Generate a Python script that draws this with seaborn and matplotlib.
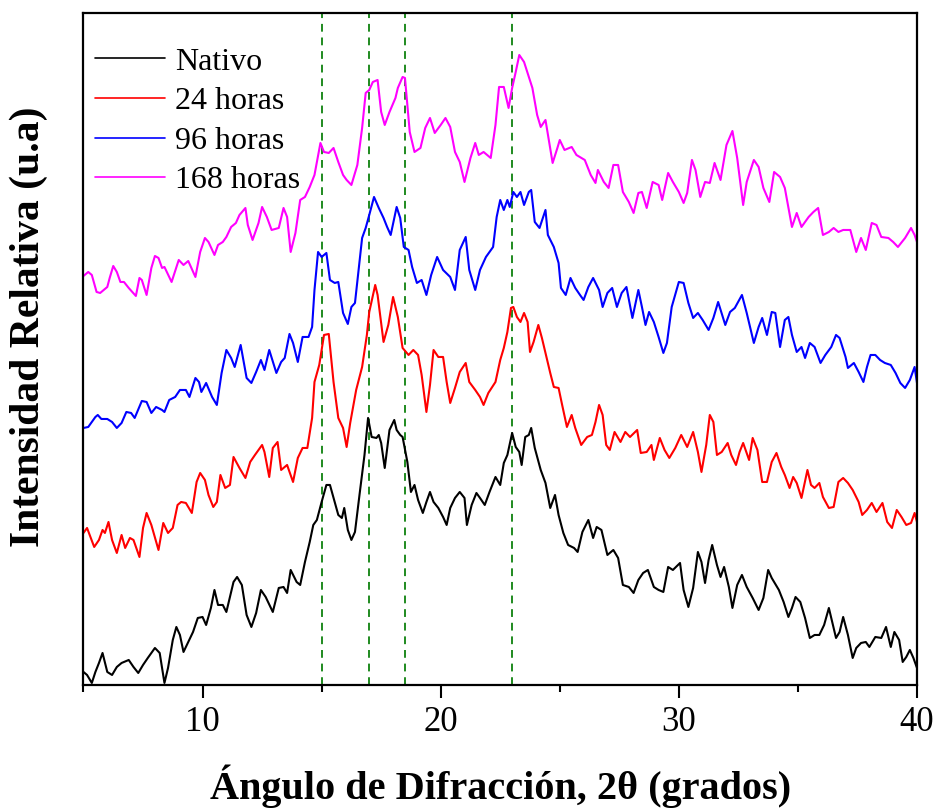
import matplotlib
matplotlib.use("Agg")
import matplotlib.pyplot as plt
import pandas as pd
import seaborn as sns

# ---- diffraction patterns (2θ in degrees, relative intensity in a.u., stacked) ----
nativo_x = [5.0, 5.15, 5.35, 5.5, 5.65, 5.8, 6.0, 6.2, 6.4, 6.6, 6.9, 7.1, 7.3, 7.5, 7.7, 7.85, 8.0, 8.2, 8.4, 8.55,
            8.75, 8.9, 9.05, 9.2, 9.4, 9.6, 9.8, 10.0, 10.15, 10.35, 10.5, 10.65, 10.85, 11.0, 11.15, 11.3, 11.45,
            11.65, 11.85, 12.05, 12.25, 12.45, 12.65, 12.95, 13.2, 13.4, 13.55, 13.7, 13.95, 14.1, 14.3, 14.5, 14.65,
            14.8, 15.0, 15.2, 15.35, 15.5, 15.7, 15.85, 15.95, 16.1, 16.25, 16.4, 16.6, 16.8, 16.95, 17.1, 17.3, 17.4,
            17.5, 17.65, 17.85, 18.05, 18.15, 18.3, 18.4, 18.6, 18.75, 18.9, 19.05, 19.25, 19.4, 19.55, 19.7, 19.9,
            20.1, 20.25, 20.4, 20.6, 20.8, 21.0, 21.1, 21.3, 21.5, 21.65, 21.85, 22.05, 22.3, 22.5, 22.65, 22.8, 23.0,
            23.15, 23.3, 23.4, 23.55, 23.7, 23.8, 23.95, 24.2, 24.4, 24.6, 24.8, 24.95, 25.15, 25.35, 25.6, 25.75,
            25.95, 26.2, 26.4, 26.55, 26.75, 27.0, 27.25, 27.45, 27.65, 27.9, 28.1, 28.3, 28.5, 28.7, 28.95, 29.15,
            29.35, 29.55, 29.75, 30.05, 30.2, 30.4, 30.6, 30.8, 30.95, 31.1, 31.25, 31.4, 31.6, 31.75, 31.9, 32.1,
            32.25, 32.45, 32.65, 32.85, 33.1, 33.35, 33.55, 33.75, 33.9, 34.2, 34.4, 34.6, 34.75, 34.9, 35.1, 35.3,
            35.5, 35.7, 35.9, 36.1, 36.3, 36.45, 36.6, 36.75, 36.9, 37.1, 37.3, 37.45, 37.65, 37.85, 38.0, 38.25,
            38.5, 38.7, 38.9, 39.05, 39.25, 39.4, 39.55, 39.7, 39.85, 40.0]
nativo_y = [13, 10, 2, 13, 22, 32, 13, 10, 18, 22, 25, 18, 12, 20, 27, 32, 37, 32, 2, 17,
            45, 58, 50, 33, 43, 53, 67, 68, 60, 77, 95, 80, 80, 73, 88, 103, 108,
            100, 70, 58, 72, 95, 88, 73, 97, 98, 92, 115, 103, 100, 123, 143, 160,
            165, 183, 200, 200, 187, 170, 167, 177, 155, 145, 153, 192, 230, 267, 248, 247, 250,
            242, 217, 255, 265, 255, 250, 248, 223, 193, 200, 185, 172, 183, 193, 183, 177,
            168, 160, 177, 187, 193, 187, 160, 180, 192, 187, 180, 193, 208, 200, 222, 230, 252,
            238, 233, 220, 248, 250, 257, 237, 215, 202, 177, 190, 170, 152, 140, 137, 133,
            153, 165, 147, 158, 155, 130, 135, 127, 100, 98, 92, 105, 112, 115, 98, 95,
            93, 118, 115, 122, 95, 78, 97, 133, 123, 102, 125, 140, 120, 108, 118, 98,
            77, 100, 110, 98, 87, 75, 87, 115, 107, 95, 83, 68, 77, 88, 83, 67,
            47, 50, 50, 60, 77, 62, 47, 53, 68, 50, 27, 37, 42, 43, 38, 48,
            47, 58, 38, 53, 45, 23, 28, 35, 27, 17]

h24_x = [5.0, 5.15, 5.45, 5.65, 5.8, 5.9, 6.05, 6.2, 6.4, 6.6, 6.75, 6.95, 7.1, 7.35, 7.5, 7.65, 7.85, 8.15, 8.35,
         8.55, 8.75, 8.95, 9.1, 9.3, 9.55, 9.75, 9.9, 10.1, 10.25, 10.45, 10.6, 10.75, 10.95, 11.15, 11.3, 11.55,
         11.8, 12.0, 12.2, 12.5, 12.6, 12.8, 12.95, 13.15, 13.3, 13.55, 13.8, 14.0, 14.2, 14.4, 14.6, 14.7, 14.9,
         15.1, 15.3, 15.5, 15.7, 15.9, 16.05, 16.2, 16.45, 16.7, 16.9, 17.0, 17.25, 17.35, 17.6, 17.8, 18.0, 18.2,
         18.4, 18.65, 18.85, 19.05, 19.2, 19.4, 19.55, 19.7, 19.9, 20.1, 20.25, 20.4, 20.6, 20.8, 21.05, 21.2,
         21.45, 21.65, 21.8, 22.0, 22.3, 22.5, 22.65, 22.8, 22.95, 23.05, 23.2, 23.35, 23.5, 23.65, 23.75, 23.9,
         24.1, 24.25, 24.45, 24.6, 24.75, 24.95, 25.1, 25.3, 25.5, 25.65, 25.9, 26.15, 26.35, 26.5, 26.65, 26.8,
         26.95, 27.1, 27.3, 27.55, 27.75, 27.95, 28.25, 28.4, 28.65, 28.85, 28.95, 29.2, 29.4, 29.6, 29.85, 30.1,
         30.35, 30.6, 30.8, 30.95, 31.15, 31.3, 31.45, 31.6, 31.8, 32.05, 32.2, 32.4, 32.55, 32.7, 32.95, 33.1,
         33.3, 33.5, 33.7, 33.9, 34.1, 34.3, 34.45, 34.65, 34.8, 34.95, 35.15, 35.4, 35.55, 35.7, 35.9, 36.05,
         36.3, 36.5, 36.7, 36.9, 37.1, 37.3, 37.55, 37.7, 37.9, 38.1, 38.3, 38.55, 38.75, 38.95, 39.15, 39.35,
         39.55, 39.75, 39.9, 40.0]
h24_y = [152, 157, 138, 145, 155, 152, 163, 145, 132, 150, 137, 147, 145, 128, 157, 172, 160, 135, 162,
         152, 157, 180, 183, 182, 172, 203, 212, 205, 190, 178, 183, 210, 197, 200, 228, 217,
         207, 223, 230, 240, 233, 208, 237, 243, 215, 220, 203, 227, 237, 237, 267, 303, 320,
         350, 351, 303, 267, 257, 238, 262, 295, 318, 350, 373, 400, 390, 343, 360, 388, 368,
         337, 330, 335, 330, 310, 273, 300, 335, 328, 328, 303, 282, 297, 313, 322, 303,
         295, 288, 280, 292, 303, 325, 337, 353, 377, 378, 368, 363, 372, 363, 333, 343,
         360, 347, 327, 312, 298, 297, 280, 258, 270, 257, 240, 248, 250, 263, 280, 270,
         240, 235, 253, 243, 253, 248, 255, 232, 233, 240, 225, 247, 235, 227, 237, 250,
         238, 253, 233, 213, 240, 270, 263, 230, 233, 242, 230, 220, 233, 242, 225, 247,
         235, 203, 203, 223, 232, 218, 210, 197, 208, 202, 187, 215, 200, 197, 202, 188,
         177, 178, 203, 207, 202, 195, 183, 170, 175, 182, 173, 182, 163, 157, 175, 168,
         160, 162, 172, 163]

h96_x = [5.0, 5.2, 5.5, 5.6, 5.75, 6.0, 6.2, 6.4, 6.6, 6.8, 7.0, 7.15, 7.45, 7.65, 7.85, 8.05, 8.3, 8.4, 8.6, 8.85,
         9.05, 9.3, 9.45, 9.7, 9.85, 9.95, 10.15, 10.4, 10.6, 10.8, 11.0, 11.2, 11.35, 11.6, 11.85, 12.05, 12.25,
         12.45, 12.6, 12.8, 13.1, 13.3, 13.45, 13.65, 13.8, 14.0, 14.2, 14.45, 14.6, 14.7, 14.85, 15.0, 15.2, 15.35,
         15.55, 15.7, 15.9, 16.1, 16.25, 16.4, 16.55, 16.7, 16.85, 17.0, 17.2, 17.4, 17.6, 17.75, 17.9, 18.15,
         18.3, 18.45, 18.65, 18.8, 19.0, 19.2, 19.4, 19.6, 19.85, 20.1, 20.4, 20.6, 20.8, 21.05, 21.2, 21.45,
         21.65, 21.9, 22.2, 22.35, 22.5, 22.65, 22.8, 22.9, 23.05, 23.2, 23.35, 23.5, 23.7, 23.8, 23.95, 24.15,
         24.4, 24.5, 24.75, 24.95, 25.05, 25.25, 25.45, 25.65, 25.85, 26.0, 26.2, 26.4, 26.65, 26.8, 27.0, 27.2,
         27.4, 27.6, 27.8, 28.05, 28.3, 28.45, 28.6, 28.75, 28.95, 29.15, 29.35, 29.5, 29.7, 30.0, 30.2, 30.4,
         30.6, 30.8, 31.0, 31.25, 31.45, 31.65, 31.95, 32.15, 32.35, 32.65, 32.85, 33.15, 33.35, 33.5, 33.7,
         33.9, 34.05, 34.25, 34.45, 34.6, 34.75, 34.95, 35.15, 35.3, 35.5, 35.7, 35.95, 36.15, 36.4, 36.6, 36.75,
         37.0, 37.1, 37.35, 37.55, 37.75, 37.9, 38.05, 38.25, 38.45, 38.65, 38.9, 39.1, 39.3, 39.5, 39.7, 39.9,
         40.0]
h96_y = [257, 258, 268, 270, 266, 266, 263, 257, 262, 273, 272, 267, 284, 283, 272, 278, 275, 273, 285, 288,
         295, 295, 288, 307, 303, 293, 302, 288, 280, 312, 335, 327, 318, 340, 307, 302, 313,
         325, 315, 335, 312, 323, 327, 351, 342, 323, 348, 348, 358, 395, 433, 428, 432, 405,
         402, 403, 372, 361, 378, 382, 415, 447, 457, 470, 488, 477, 467, 458, 450, 478,
         467, 438, 435, 418, 402, 405, 390, 410, 428, 415, 408, 395, 435, 448, 415, 395,
         415, 428, 438, 468, 485, 475, 485, 478, 493, 488, 493, 480, 493, 495, 463, 457,
         475, 450, 438, 422, 397, 390, 407, 397, 390, 385, 398, 407, 395, 378, 392, 397,
         378, 392, 398, 367, 395, 378, 360, 373, 363, 348, 332, 342, 378, 403, 402, 382,
         367, 372, 365, 355, 367, 383, 360, 373, 377, 390, 372, 342, 358, 367, 350,
         373, 372, 338, 365, 368, 350, 333, 338, 327, 342, 338, 322, 330, 338, 350, 347,
         328, 317, 322, 313, 303, 318, 330, 330, 325, 322, 320, 312, 302, 297, 305, 318,
         302]

h168_x = [5.0, 5.2, 5.35, 5.55, 5.7, 5.85, 6.0, 6.1, 6.25, 6.4, 6.55, 6.7, 6.9, 7.2, 7.35, 7.45, 7.65, 7.85, 8.0,
          8.15, 8.3, 8.4, 8.7, 9.0, 9.2, 9.4, 9.7, 9.9, 10.1, 10.25, 10.5, 10.65, 10.85, 11.0, 11.2, 11.4, 11.55,
          11.8, 11.9, 12.1, 12.35, 12.5, 12.7, 12.9, 13.2, 13.4, 13.55, 13.7, 13.9, 14.1, 14.3, 14.5, 14.7, 14.95,
          15.1, 15.3, 15.5, 15.7, 15.9, 16.05, 16.25, 16.5, 16.7, 16.85, 17.0, 17.15, 17.35, 17.5, 17.65, 17.85,
          18.1, 18.2, 18.4, 18.5, 18.7, 18.9, 19.15, 19.35, 19.55, 19.75, 20.0, 20.2, 20.4, 20.6, 20.8, 21.0,
          21.25, 21.45, 21.6, 21.8, 22.1, 22.3, 22.45, 22.65, 22.85, 23.0, 23.15, 23.3, 23.5, 23.65, 23.85, 24.05,
          24.2, 24.4, 24.7, 24.9, 25.0, 25.2, 25.5, 25.7, 26.05, 26.3, 26.5, 26.6, 26.85, 27.05, 27.25, 27.45,
          27.65, 27.9, 28.1, 28.3, 28.45, 28.65, 28.9, 29.15, 29.3, 29.55, 29.75, 30.0, 30.2, 30.35, 30.55, 30.7,
          30.9, 31.1, 31.3, 31.5, 31.75, 32.0, 32.25, 32.45, 32.7, 32.85, 33.15, 33.35, 33.55, 33.8, 34.0, 34.25,
          34.45, 34.75, 34.95, 35.15, 35.45, 35.65, 35.85, 36.05, 36.3, 36.5, 36.7, 36.9, 37.2, 37.45, 37.65,
          37.85, 38.1, 38.3, 38.5, 38.8, 39.0, 39.2, 39.5, 39.75, 39.9, 40.0]
h168_y = [409, 413, 410, 393, 392, 395, 398, 407, 419, 413, 403, 403, 397, 389, 407, 405, 390, 417, 429,
          427, 417, 418, 403, 425, 420, 424, 408, 433, 447, 443, 430, 440, 443, 448, 458, 462, 470,
          477, 460, 445, 462, 478, 468, 455, 457, 477, 468, 433, 452, 485, 488, 498, 510, 542,
          533, 532, 537, 523, 510, 505, 500, 520, 557, 592, 595, 603, 605, 573, 560, 573,
          587, 597, 608, 607, 553, 533, 537, 557, 567, 552, 560, 567, 558, 533, 523, 503,
          527, 542, 530, 533, 527, 560, 598, 598, 577, 597, 613, 630, 623, 612, 597, 570,
          558, 565, 522, 537, 545, 535, 538, 530, 525, 510, 502, 515, 503, 497, 520, 520,
          493, 483, 472, 492, 493, 477, 503, 500, 485, 512, 503, 493, 482, 492, 525, 515,
          488, 503, 502, 522, 505, 540, 554, 527, 480, 503, 525, 518, 497, 483, 513, 508,
          497, 458, 472, 458, 468, 473, 477, 450, 453, 457, 453, 455, 455, 433, 447,
          435, 462, 460, 448, 447, 443, 438, 447, 457, 450, 443]

labels = ["Nativo", "24 horas", "96 horas", "168 horas"]
colors = ["#000000", "#ff0000", "#0000ff", "#ff00ff"]
ref_lines = [15, 17, 18.5, 23]
major_ticks = [10, 20, 30, 40]
minor_ticks = [5, 15, 25, 35]

frames = []
for lab, xs, ys in zip(labels, [nativo_x, h24_x, h96_x, h168_x], [nativo_y, h24_y, h96_y, h168_y]):
    frames.append(pd.DataFrame({"2theta": xs, "I": ys, "Muestra": lab}))
df = pd.concat(frames, ignore_index=True)

sns.set_style("ticks")
plt.rcParams["font.family"] = ["Liberation Serif", "DejaVu Serif"]
plt.rcParams["text.color"] = "black"
plt.rcParams["axes.labelcolor"] = "black"
plt.rcParams["xtick.color"] = "black"
plt.rcParams["ytick.color"] = "black"

fig = plt.figure(figsize=(9.38, 8.11), dpi=100)
ax = fig.add_axes([0.0890, 0.1554, 0.8886, 0.8286])

sns.lineplot(data=df, x="2theta", y="I", hue="Muestra", hue_order=labels,
             palette=dict(zip(labels, colors)), estimator=None, sort=False,
             linewidth=1.5, ax=ax)

for xv in ref_lines:
    ax.axvline(xv, color="#1f8a1f", linestyle=(0, (4, 3)), linewidth=1.4, zorder=0)

ax.set_xlim(5, 40)
ax.set_ylim(0, 672)
ax.set_yticks([])
ax.set_xticks(major_ticks)
ax.set_xticks(minor_ticks, minor=True)
ax.tick_params(axis="x", which="major", direction="out", length=9, width=1.5,
               labelsize=25, pad=6, top=False, colors="black")
ax.tick_params(axis="x", which="minor", direction="out", length=5, width=1.5, top=False)
for sp in ax.spines.values():
    sp.set_visible(True)
    sp.set_linewidth(1.6)
    sp.set_color("black")

ax.set_xlabel("Ángulo de Difracción, 2θ (grados)", fontsize=29, fontweight="bold", color="black")
ax.set_ylabel("Intensidad Relativa (u.a)", fontsize=30, fontweight="bold", color="black")
ax.xaxis.set_label_coords(0.5, -0.118)
ax.yaxis.set_label_coords(-0.043, 0.533)

handles, labs = ax.get_legend_handles_labels()
leg = ax.legend(handles, labs, loc="upper left", bbox_to_anchor=(0.0138, 0.949),
                frameon=False, fontsize=23, borderpad=0, borderaxespad=0,
                handlelength=2.2, handletextpad=0.3, labelspacing=0.32)
for ln in leg.get_lines():
    ln.set_linewidth(1.2)
for t in leg.get_texts():
    t.set_color("black")

fig.savefig("out.png", dpi=100)
